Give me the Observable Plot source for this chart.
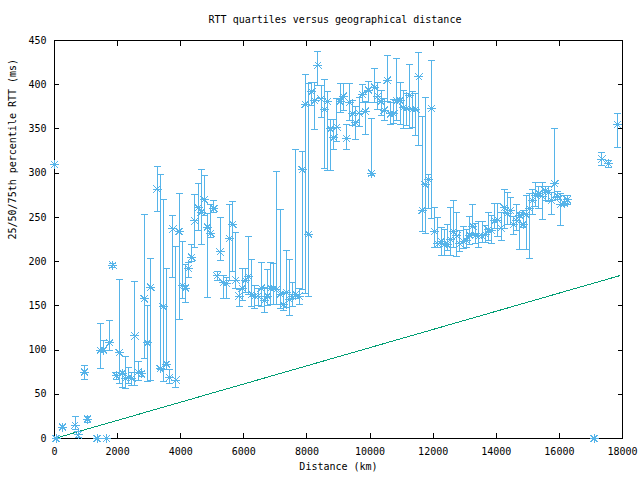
<!DOCTYPE html>
<html><head><meta charset="utf-8">
<script src="https://cdn.jsdelivr.net/npm/d3@7"></script>
<script src="https://cdn.jsdelivr.net/npm/@observablehq/plot@0.6"></script>
<style>
body{margin:0;background:#fff;}
#wrap{width:640px;height:480px;position:relative;font-family:"DejaVu Sans Mono",monospace;background:#fff;}
#title{position:absolute;left:0;top:14px;width:640px;padding-left:30px;box-sizing:border-box;text-align:center;font-size:10px;line-height:12px;color:#000;}
#chart{position:absolute;left:0;top:30px;}
#chart svg path, #chart svg line, #chart svg rect{shape-rendering:crispEdges;}
</style></head>
<body><div id="wrap"><div id="title">RTT quartiles versus geographical distance</div><div id="chart"></div></div>
<script>
const distance = [0,50,250,650,750,950,1050,1350,1450,1550,1650,1750,1850,1950,2050,2150,2250,2350,2450,2550,2650,2750,2850,2950,3050,3250,3350,3450,3550,3650,3750,3850,3950,4050,4150,4250,4350,4450,4550,4650,4750,4850,4950,5050,5150,5250,5350,5450,5550,5650,5750,5850,5950,6050,6150,6250,6350,6450,6550,6650,6750,6850,6950,7050,7150,7250,7350,7450,7550,7650,7750,7850,7950,8050,8150,8250,8350,8450,8550,8650,8750,8850,8950,9050,9150,9250,9350,9450,9550,9650,9750,9850,9950,10050,10150,10250,10350,10450,10550,10650,10750,10850,10950,11050,11150,11250,11350,11450,11550,11650,11750,11850,11950,12050,12150,12250,12350,12450,12550,12650,12750,12850,12950,13050,13150,13250,13350,13450,13550,13650,13750,13850,13950,14050,14150,14250,14350,14450,14550,14650,14750,14850,14950,15050,15150,15250,15350,15450,15550,15650,15750,15850,15950,16050,16150,16250,17100,17350,17550,17850];
const rttMedian = [310,0,13,15,4,75,22,0,100,100,0,108,196,71,97,74,68,69,68,116,75,73,158,108,171,282,79,149,84,69,237,66,234,173,170,192,205,246,261,256,270,239,232,260,184,211,176,175,226,242,179,161,170,179,183,163,161,161,170,156,161,170,170,169,163,151,165,157,160,163,161,304,378,231,392,382,422,384,372,381,350,340,352,381,387,339,380,367,357,368,389,370,394,300,397,387,381,371,405,367,367,382,382,374,373,388,372,372,409,258,287,293,373,234,220,223,219,219,225,234,229,220,223,224,230,240,230,229,229,231,236,235,246,247,238,261,254,258,242,246,252,242,253,260,269,275,277,274,280,278,269,288,274,265,266,270,0,316,311,355];
const rttQ1 = [310,0,13,10,1.5,67,18,0,79,99,0,99,193,67,62,58,57,62,60,60,66,70,91,64,66,257,78,64,78,62,182,58,134,158,154,182,200,216,235,219,252,159,227,256,179,201,158,158,179,189,170,149,156,165,163,149,147,150,149,142,150,152,152,151,147,145,148,139,149,158,151,169,164,160,376,349,399,363,305,303,303,327,336,369,371,327,360,354,338,353,380,344,380,297,380,372,365,360,381,355,356,360,355,350,354,351,352,343,331,234,232,260,249,216,216,207,207,212,207,216,206,211,215,216,219,231,221,216,222,222,224,220,237,228,224,237,242,242,231,235,214,239,214,203,253,262,260,248,269,268,253,273,270,241,263,265,0,309,306,329];
const rttQ3 = [310,0,13,25,8,82,25,0,130,111,0,133,198,75,180,76,93,80,75,178,87,76,253,150,203,308,298,270,192,78,252,217,277,223,197,199,219,276,288,304,297,254,265,269,189,250,184,182,265,268,233,168,192,192,228,202,173,170,199,171,191,199,198,302,259,164,212,202,176,327,170,324,411,401,403,403,438,399,406,392,361,361,384,401,401,355,401,382,375,386,400,381,404,362,418,403,394,384,433,380,383,430,403,394,390,423,392,390,436,364,386,298,427,261,250,239,236,242,261,269,256,235,240,236,251,265,243,245,245,241,255,252,266,266,255,282,278,273,251,265,256,258,275,277,282,289,285,289,285,285,278,350,279,277,275,275,0,323,314,367];
const fitDistance = [0, 17900];
const fitRtt = [0, 184];
const xTicks = [0,2000,4000,6000,8000,10000,12000,14000,16000,18000];
const yTicks = [0,50,100,150,200,250,300,350,400,450];

const rows = distance.map((d,i)=>({d, m: rttMedian[i], lo: rttQ1[i], hi: rttQ3[i]}));
const fit = fitDistance.map((d,i)=>({d, r: fitRtt[i]}));
const blue = "#56B4E9", green = "#009E73";
const star = {draw(c, s){const r=Math.sqrt(s/Math.PI); const k=r*0.8;
  c.moveTo(-r,0);c.lineTo(r,0);c.moveTo(0,-r);c.lineTo(0,r);
  c.moveTo(-k,-k);c.lineTo(k,k);c.moveTo(-k,k);c.lineTo(k,-k);}};
const cap = {draw(c,s){const r=Math.sqrt(s/Math.PI); c.moveTo(-r,0); c.lineTo(r,0);}};
const fmt = d => String(d);

const chart = Plot.plot({
  width:640, height:450, marginTop:10, marginRight:18, marginBottom:42, marginLeft:54,
  style:{fontFamily:"DejaVu Sans Mono, monospace", fontSize:"10px", color:"#000", background:"#fff", overflow:"visible"},
  x:{domain:[0,18000]}, y:{domain:[0,450]},
  marks:[
    Plot.frame({stroke:"#000"}),
    Plot.axisX({ticks:xTicks, anchor:"bottom", tickSize:-5, tickFormat:()=>"", label:null}),
    Plot.axisX({ticks:xTicks, anchor:"top", tickSize:-5, tickFormat:()=>"", label:null}),
    Plot.axisY({ticks:yTicks, anchor:"left", tickSize:-5, tickFormat:()=>"", label:null}),
    Plot.axisY({ticks:yTicks, anchor:"right", tickSize:-5, tickFormat:()=>"", label:null}),
    Plot.axisX({ticks:xTicks, anchor:"bottom", tickSize:0, tickPadding:9, tickFormat:fmt, label:null}),
    Plot.axisY({ticks:yTicks, anchor:"left", tickSize:0, tickPadding:8, tickFormat:fmt, label:null}),
    Plot.text(["Distance (km)"], {frameAnchor:"bottom", dy:31, text:d=>d, fill:"#000"}),
    Plot.text(["25/50/75th percentile RTT (ms)"], {frameAnchor:"left", dx:-42, rotate:-90, text:d=>d, fill:"#000"}),
    Plot.line(fit,{x:"d",y:"r",stroke:green,strokeWidth:1}),
    Plot.ruleX(rows,{x:"d",y1:"lo",y2:"hi",stroke:blue,strokeWidth:1}),
    Plot.dot(rows,{x:"d",y:"lo",symbol:cap,r:3.5,stroke:blue,fill:"none",strokeWidth:1}),
    Plot.dot(rows,{x:"d",y:"hi",symbol:cap,r:3.5,stroke:blue,fill:"none",strokeWidth:1}),
    Plot.dot(rows,{x:"d",y:"m",symbol:star,r:4.5,stroke:blue,fill:"none",strokeWidth:1})
  ]
});
document.getElementById("chart").appendChild(chart);
</script>
</body></html>
